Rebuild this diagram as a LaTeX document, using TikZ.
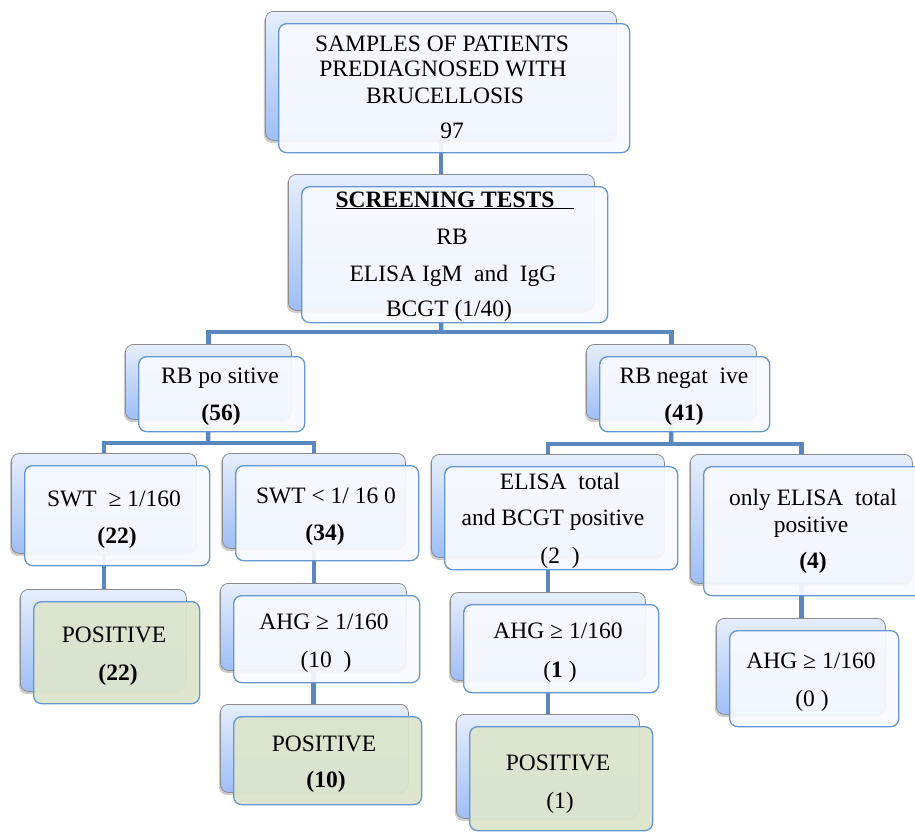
\documentclass[tikz,border=0pt]{standalone}
\usepackage{fontspec}
\setmainfont{Liberation Serif}
\usetikzlibrary{shadows}
\pgfdeclarelayer{bg}
\pgfsetlayers{bg,main}
\definecolor{connc}{HTML}{5A88BE}
\definecolor{backline}{HTML}{8C8C8C}
\definecolor{backtop}{HTML}{E6EEFC}
\definecolor{backbot}{HTML}{9FBEF6}
\definecolor{frontline}{HTML}{6497CF}
\definecolor{frontfill}{HTML}{F8FAFF}
\definecolor{greenfill}{HTML}{DCE5CD}
\tikzset{
  backbox/.style={draw=backline, line width=0.8pt, rounded corners=8pt,
    top color=backtop, bottom color=backbot, inner sep=0pt, anchor=north west,
    drop shadow={shadow xshift=-1.5pt, shadow yshift=-2.5pt, opacity=0.4}},
  frontbox/.style={draw=frontline, line width=1.3pt, rounded corners=8pt,
    fill=frontfill, fill opacity=0.93, inner sep=0pt, anchor=north west},
  greenbox/.style={frontbox, fill=greenfill, fill opacity=0.95},
  conn/.style={draw=connc, line width=4.5pt},
  txt/.style={font=\fontsize{23.5}{27}\selectfont, anchor=base, inner sep=0pt},
}
\newcommand\bpair[6]{%
  \node[backbox, minimum width={#4pt-#2pt}, minimum height={#5pt-#3pt}] (#1s) at (#2-13,#3-12) {};
  \node[#6, minimum width={#4pt-#2pt}, minimum height={#5pt-#3pt}] (#1) at (#2,#3) {};
}
\begin{document}
\begin{tikzpicture}[x=1pt,y=-1pt]
\useasboundingbox (0,0) rectangle (915,831);
\bpair{b1}{278}{23}{629}{152}{frontbox}
\bpair{b2}{301}{186}{607}{322}{frontbox}
\bpair{rbp}{138}{356}{304}{431}{frontbox}
\bpair{rbn}{599}{356}{769}{431}{frontbox}
\bpair{swa}{24}{465}{209}{565}{frontbox}
\bpair{swb}{235}{465}{418}{560}{frontbox}
\bpair{el}{444}{466}{677}{569}{frontbox}
\bpair{on}{703}{466}{925}{595}{frontbox}
\bpair{pa}{33}{601}{199}{703}{greenbox}
\bpair{ahgb}{233}{595}{419}{682}{frontbox}
\bpair{pb}{233}{716}{421}{804}{greenbox}
\bpair{ahgc}{463}{604}{658}{692}{frontbox}
\bpair{pc}{469}{726}{652}{830}{greenbox}
\bpair{ahgd}{729}{630}{898}{726}{frontbox}

\coordinate (j1) at (441,332);
\coordinate (j2) at (208,443);
\coordinate (j3) at (671,444);
\begin{pgfonlayer}{bg}
\draw[conn] (b1s.south) -- (b1s.south |- b2s.north);
\draw[conn] (b2s.south) -- (j1);
\draw[conn] (rbps.north) |- (j1) -| (rbns.north);
\draw[conn] (rbps.south) -- (j2);
\draw[conn] (swas.north) |- (j2) -| (swbs.north);
\draw[conn] (rbns.south) -- (j3);
\draw[conn] (els.north) |- (j3) -| (ons.north);
\draw[conn] (swas.south) -- (swas.south |- pas.north);
\draw[conn] (swbs.south) -- (swbs.south |- ahgbs.north);
\draw[conn] (ahgbs.south) -- (ahgbs.south |- pbs.north);
\draw[conn] (els.south) -- (els.south |- ahgcs.north);
\draw[conn] (ahgcs.south) -- (ahgcs.south |- pcs.north);
\draw[conn] (ons.south) -- (ons.south |- ahgds.north);
\end{pgfonlayer}

\node[txt] (t1a) at (442,51) {SAMPLES OF PATIENTS};
\node[txt] (t1b) at (443,76) {PREDIAGNOSED WITH};
\node[txt] (t1c) at (445,103) {BRUCELLOSIS};
\node[txt] (t1d) at (452,138) {97};
\node[txt] (t2a) at (455,207) {\underline{\textbf{SCREENING TESTS}\hspace{20pt}}};
\node[txt] (t2b) at (452,244) {RB};
\node[txt] (t2c) at (453,281) {ELISA IgM\ \ and\ \ IgG};
\node[txt] (t2d) at (449,316) {BCGT (1/40)};
\node[txt] (t3a) at (220,383) {RB po sitive};
\node[txt] (t3b) at (221,420) {\textbf{(56)}};
\node[txt] (t4a) at (684,383) {RB negat\ \ ive};
\node[txt] (t4b) at (684,420) {\textbf{(41)}};
\node[txt] (t5a) at (114,506) {SWT\ \ ≥ 1/160};
\node[txt] (t5b) at (117,543) {\textbf{(22)}};
\node[txt] (t6a) at (326,503) {SWT < 1/ 16 0};
\node[txt] (t6b) at (325,540) {\textbf{(34)}};
\node[txt] (t7a) at (560,489) {ELISA\ \ total};
\node[txt] (t7b) at (553,525) {and BCGT positive};
\node[txt] (t7c) at (560,563) {(2\ \ )};
\node[txt] (t8a) at (813,505) {only ELISA\ \ total};
\node[txt] (t8b) at (811,532) {positive};
\node[txt] (t8c) at (813,568) {\textbf{(4)}};
\node[txt] (t9a) at (114,642) {POSITIVE};
\node[txt] (t9b) at (118,680) {\textbf{(22)}};
\node[txt] (t10a) at (324,629) {AHG ≥ 1/160};
\node[txt] (t10b) at (326,667) {(10\ \ )};
\node[txt] (t11a) at (324,751) {POSITIVE};
\node[txt] (t11b) at (326,787) {\textbf{(10)}};
\node[txt] (t12a) at (558,638) {AHG ≥ 1/160};
\node[txt] (t12b) at (560,677) {(\textbf{1} )};
\node[txt] (t13a) at (558,770) {POSITIVE};
\node[txt] (t13b) at (560,808) {(1)};
\node[txt] (t14a) at (811,668) {AHG ≥ 1/160};
\node[txt] (t14b) at (812,706) {(0 )};
\end{tikzpicture}
\end{document}
